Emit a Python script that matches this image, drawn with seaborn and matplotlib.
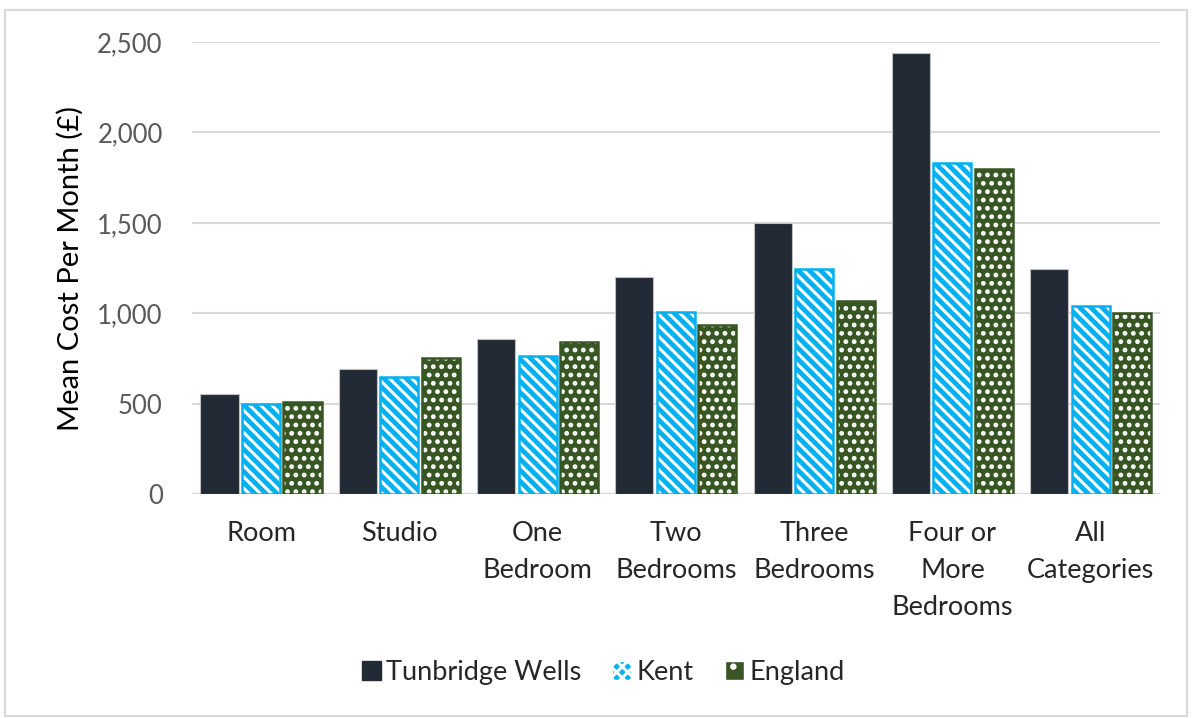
import numpy as np
import pandas as pd
import matplotlib
matplotlib.use("Agg")
import matplotlib.pyplot as plt
from matplotlib.patches import Patch, Rectangle
import seaborn as sns

categories = ["Room", "Studio", "One\nBedroom", "Two\nBedrooms", "Three\nBedrooms",
              "Four or\nMore\nBedrooms", "All\nCategories"]
series_names = ["Tunbridge Wells", "Kent", "England"]
tunbridge_wells = [552, 694, 860, 1202, 1500, 2438, 1245]
kent = [499, 648, 762, 1007, 1243, 1832, 1040]
england = [510, 753, 840, 937, 1070, 1795, 1000]
y_ticks = [0, 500, 1000, 1500, 2000, 2500]
y_label = "Mean Cost Per Month (£)"

colors = {"Tunbridge Wells": "#222A35", "Kent": "#00B0F0", "England": "#375623"}

df = pd.DataFrame({
    "category": categories * 3,
    "series": [series_names[0]] * 7 + [series_names[1]] * 7 + [series_names[2]] * 7,
    "value": tunbridge_wells + kent + england,
})

sns.set_theme(style="white")
plt.rcParams["font.family"] = ["Lato", "DejaVu Sans"]
plt.rcParams["hatch.linewidth"] = 2.2

fig = plt.figure(figsize=(11.92, 7.18), dpi=100)
ax = fig.add_axes([0.161, 0.3116, 0.812, 0.63])

sns.barplot(data=df, x="category", y="value", hue="series", order=categories,
            hue_order=series_names, palette=colors, width=0.9, gap=0.08,
            saturation=1, ax=ax, legend=False)

# style bars
tw_c, kent_c, eng_c = ax.containers
for p in tw_c:
    p.set_edgecolor("#BFBFBF")
    p.set_linewidth(0.8)
for cont, hatch, col in ((kent_c, "\\\\\\", colors["Kent"]), (eng_c, "..", colors["England"])):
    for p in cont:
        p.set_hatch(hatch)
        p.set_edgecolor("white")
        p.set_linewidth(0)
        ax.add_patch(Rectangle(p.get_xy(), p.get_width(), p.get_height(),
                               fill=False, edgecolor=col, linewidth=1.8, zorder=p.get_zorder() + 0.1))

ax.set_ylim(0, 2500)
ax.set_xlim(-0.5, len(categories) - 0.5)
ax.set_yticks(y_ticks)
ax.set_yticklabels([f"{v:,}" for v in y_ticks])
ax.yaxis.grid(True, color="#D9D9D9", linewidth=1.5)
ax.set_axisbelow(True)
for s in ["top", "right", "left", "bottom"]:
    ax.spines[s].set_visible(False)
ax.axhline(0, color="#D9D9D9", linewidth=1.5, zorder=0)

ax.tick_params(axis="y", labelsize=18.5, labelcolor="#595959", length=0, pad=21)
ax.tick_params(axis="x", labelsize=19.5, labelcolor="#262626", length=0, pad=19)
for lab in ax.get_xticklabels():
    lab.set_linespacing(1.6)
ax.set_xlabel("")
ax.set_ylabel(y_label, fontsize=21, color="black")
ax.yaxis.set_label_coords(-0.112, 0.5)

handles = [
    Patch(facecolor=colors["Tunbridge Wells"], edgecolor=colors["Tunbridge Wells"], label=series_names[0]),
    Patch(facecolor=colors["Kent"], edgecolor="white", hatch="xxx", label=series_names[1]),
    Patch(facecolor=colors["England"], edgecolor="white", hatch=".", label=series_names[2]),
]
fig.legend(handles=handles, loc="center", bbox_to_anchor=(0.506, 0.064), ncol=3,
           frameon=False, fontsize=19.5, handlelength=0.7, handleheight=0.7,
           handletextpad=0.2, columnspacing=1.15, labelcolor="#262626")

# outer chart border
fig.add_artist(Rectangle((0.004, 0.003), 0.992, 0.983, transform=fig.transFigure,
                         fill=False, edgecolor="#D9D9D9", linewidth=1.5))

fig.savefig("out.png", dpi=100)
